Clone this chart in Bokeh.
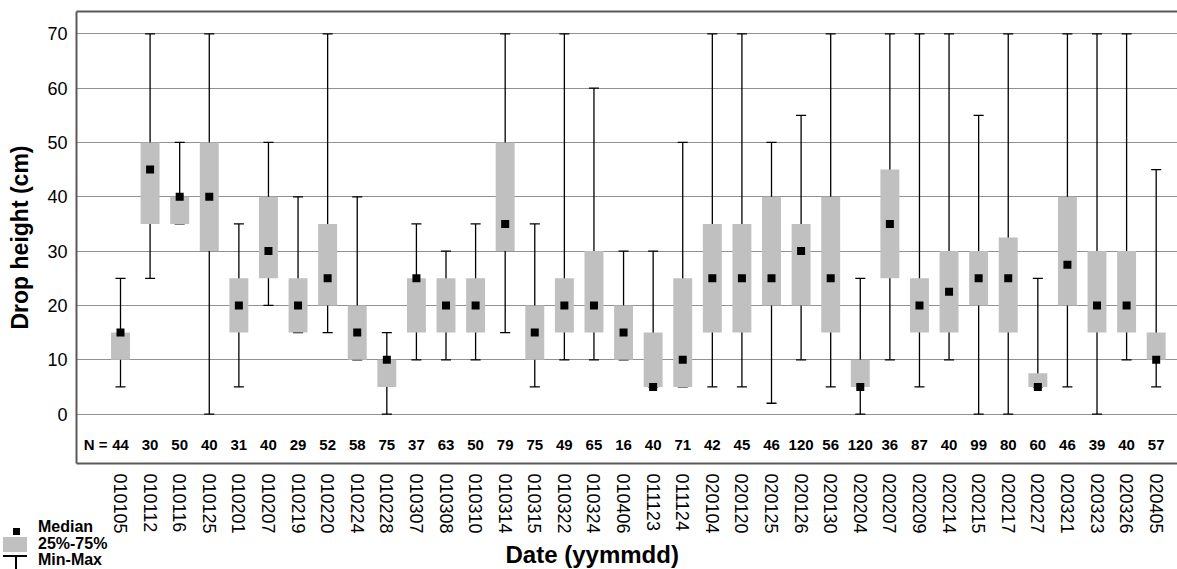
from bokeh.plotting import figure
from bokeh.layouts import column
from bokeh.models import (Range1d, FixedTicker, LinearAxis, Title, ColumnDataSource, Div)
from bokeh.core.properties import value
from bokeh.embed import file_html
from bokeh.resources import INLINE

dates = ["010105", "010112", "010116", "010125", "010201", "010207", "010219",
         "010220", "010224", "010228", "010307", "010308", "010310", "010314",
         "010315", "010322", "010324", "010406", "011123", "011124", "020104",
         "020120", "020125", "020126", "020130", "020204", "020207", "020209",
         "020214", "020215", "020217", "020227", "020321", "020323", "020326",
         "020405"]
median = [15, 45, 40, 40, 20, 30, 20, 25, 15, 10, 25, 20, 20, 35, 15, 20, 20, 15,
          5, 10, 25, 25, 25, 30, 25, 5, 35, 20, 22.5, 25, 25, 5, 27.5, 20, 20, 10]
q25 = [10, 35, 35, 30, 15, 25, 15, 20, 10, 5, 15, 15, 15, 30, 10, 15, 15, 10,
       5, 5, 15, 15, 20, 20, 15, 5, 25, 15, 15, 20, 15, 5, 20, 15, 15, 10]
q75 = [15, 50, 40, 50, 25, 40, 25, 35, 20, 10, 25, 25, 25, 50, 20, 25, 30, 20,
       15, 25, 35, 35, 40, 35, 40, 10, 45, 25, 30, 30, 32.5, 7.5, 40, 30, 30, 15]
vmin = [5, 25, 35, 0, 5, 20, 15, 15, 10, 0, 10, 10, 10, 15, 5, 10, 10, 10,
        5, 5, 5, 5, 2, 10, 5, 0, 10, 5, 10, 0, 0, 5, 5, 0, 10, 5]
vmax = [25, 70, 50, 70, 35, 50, 40, 70, 40, 15, 35, 30, 35, 70, 35, 70, 60, 30,
        30, 50, 70, 70, 50, 55, 70, 25, 70, 70, 70, 55, 70, 25, 70, 70, 70, 45]
counts = [44, 30, 50, 40, 31, 40, 29, 52, 58, 75, 37, 63, 50, 79, 75, 49, 65, 16,
          40, 71, 42, 45, 46, 120, 56, 120, 36, 87, 40, 99, 80, 60, 46, 39, 40, 57]
y_ticks = [0, 10, 20, 30, 40, 50, 60, 70]
legend_labels = ["Median", "25%-75%", "Min-Max"]

FONT = "Liberation Sans"
FRAME = "#5a5a5a"
BOX = "#c0c0c0"
n = len(dates)
xs = list(range(n))

src = ColumnDataSource(dict(
    x=xs, med=median, lo=q25, hi=q75, mn=vmin, mx=vmax,
    xl=[i - 0.17 for i in xs], xr=[i + 0.17 for i in xs],
    nlab=[str(c) for c in counts], ny=[-5.6] * n,
))

p = figure(width=1177, height=569, output_backend="svg", toolbar_location=None,
           x_range=Range1d(-1.487, 35.72), y_range=Range1d(-9.09, 74.1),
           min_border_left=76, min_border_right=0, min_border_top=11,
           min_border_bottom=106)
p.outline_line_color = None
p.background_fill_color = "white"

# grid
p.xgrid.visible = False
p.ygrid.grid_line_color = "#222222"
p.ygrid.grid_line_dash = "1 1"
p.ygrid.grid_line_width = 1

# y axis
ya = p.yaxis[0]
ya.ticker = FixedTicker(ticks=y_ticks)
ya.major_tick_out = 0
ya.major_tick_in = 0
ya.minor_tick_out = 0
ya.minor_tick_in = 0
ya.axis_line_color = FRAME
ya.axis_line_width = 2
ya.major_label_standoff = 9
ya.major_label_text_font = FONT
ya.major_label_text_font_size = "18px"
ya.major_label_text_color = "black"
ya.axis_label = "Drop height (cm)"
ya.axis_label_text_font = FONT
ya.axis_label_text_font_size = "23px"
ya.axis_label_text_font_style = "bold"
ya.axis_label_text_color = "black"
ya.axis_label_standoff = 11

# x axis
xa = p.xaxis[0]
xa.ticker = FixedTicker(ticks=xs)
xa.major_label_overrides = {i: d for i, d in enumerate(dates)}
xa.major_label_orientation = "vertical"
xa.major_tick_out = 0
xa.major_tick_in = 0
xa.minor_tick_out = 0
xa.minor_tick_in = 0
xa.axis_line_color = FRAME
xa.axis_line_width = 2
xa.major_label_standoff = 10
xa.major_label_text_font = FONT
xa.major_label_text_font_size = "18px"
xa.major_label_text_color = "black"

# x axis title, below the tick labels
p.add_layout(Title(text="Date (yymmdd)", align="left", offset=429, standoff=4,
                   text_font=FONT, text_font_size="24px", text_font_style="bold",
                   text_color="black"), "below")

# top frame line
top = LinearAxis(ticker=FixedTicker(ticks=[]), major_tick_out=0, major_tick_in=0,
                 minor_tick_out=0, minor_tick_in=0, major_label_standoff=0,
                 major_label_text_font_size="0px", axis_line_color=FRAME,
                 axis_line_width=2)
p.add_layout(top, "above")

# whiskers + caps
p.segment(x0="x", y0="mn", x1="x", y1="mx", source=src,
          line_color="black", line_width=1.3)
p.segment(x0="xl", y0="mx", x1="xr", y1="mx", source=src,
          line_color="black", line_width=1.3)
p.segment(x0="xl", y0="mn", x1="xr", y1="mn", source=src,
          line_color="black", line_width=1.3)
# boxes
p.vbar(x="x", bottom="lo", top="hi", width=0.64, source=src,
       fill_color=BOX, line_color=None)
# medians
p.scatter(x="x", y="med", source=src, marker="square", size=8,
          fill_color="black", line_color=None)

# N row
p.text(x="x", y="ny", text="nlab", source=src, text_align="center",
       text_baseline="middle", text_font=value(FONT), text_font_size="15px",
       text_font_style="bold", text_color="black")
p.text(x=[0], y=[-5.6], text=["N ="], x_offset=-13, text_align="right",
       text_baseline="middle", text_font=value(FONT), text_font_size="15px",
       text_font_style="bold", text_color="black")

# legend key in the lower-left corner (HTML block overlapping the corner)
txt = ("position:absolute;left:38px;font-family:'Liberation Sans';font-weight:bold;"
       "font-size:16px;line-height:16px;color:black;white-space:nowrap;")
legend_html = (
    '<div style="position:relative;width:112px;height:50px;overflow:hidden;">'
    '<div style="position:absolute;left:13px;top:9px;width:7px;height:7px;background:black;"></div>'
    f'<div style="{txt}top:0px;">{legend_labels[0]}</div>'
    f'<div style="position:absolute;left:3px;top:18px;width:24px;height:15px;background:{BOX};"></div>'
    f'<div style="{txt}top:17px;">{legend_labels[1]}</div>'
    '<div style="position:absolute;left:3px;top:36px;width:24px;height:1.5px;background:black;"></div>'
    '<div style="position:absolute;left:15px;top:36px;width:1.5px;height:14px;background:black;"></div>'
    f'<div style="{txt}top:33px;">{legend_labels[2]}</div>'
    '</div>'
)
lg = Div(text=legend_html, width=112, height=50, margin=(-50, 0, 0, 0))

layout = column(p, lg, spacing=0)
open("out.html", "w").write(file_html(layout, INLINE))
